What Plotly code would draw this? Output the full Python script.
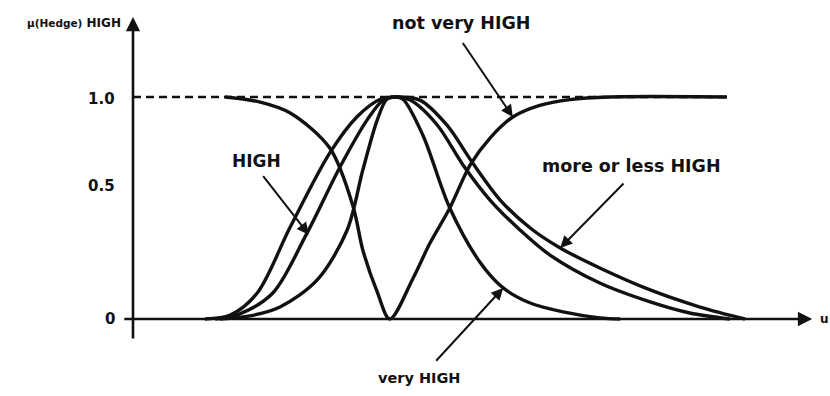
import plotly.graph_objects as go

# Membership curves for the linguistic hedges applied to the fuzzy set HIGH
# (u = universe of discourse, mu = degree of membership)
more_or_less_u = [1.20, 1.62, 2.07, 2.62, 3.28, 3.73, 4.12, 4.37, 4.78, 5.23, 5.65, 6.12, 6.62, 7.12, 7.78, 8.62, 9.45, 10.20]
more_or_less_mu = [0.0, 0.018, 0.117, 0.414, 0.748, 0.910, 0.99, 1.0, 0.986, 0.874, 0.707, 0.536, 0.410, 0.320, 0.230, 0.131, 0.054, 0.0]

high_u = [1.37, 1.78, 2.33, 2.90, 3.45, 3.90, 4.17, 4.37, 4.62, 5.07, 5.50, 5.95, 6.45, 6.95, 7.78, 8.62, 9.28, 9.95]
high_mu = [0.0, 0.023, 0.117, 0.387, 0.685, 0.896, 0.986, 1.0, 0.986, 0.874, 0.694, 0.536, 0.401, 0.288, 0.162, 0.077, 0.027, 0.0]

very_high_u = [1.45, 1.95, 2.45, 3.07, 3.57, 3.83, 4.07, 4.23, 4.37, 4.50, 4.83, 5.28, 5.78, 6.17, 6.62, 7.17, 7.78, 8.12]
very_high_mu = [0.0, 0.014, 0.054, 0.176, 0.401, 0.671, 0.896, 0.99, 1.0, 0.99, 0.829, 0.5, 0.257, 0.140, 0.072, 0.032, 0.005, 0.0]

not_very_u = [1.53, 2.12, 2.62, 3.28, 3.67, 3.83, 4.07, 4.28, 4.67, 4.95, 5.28, 5.62, 5.95, 6.33, 6.78, 7.28, 7.95, 9.90]
not_very_mu = [1.0, 0.977, 0.928, 0.770, 0.505, 0.311, 0.122, 0.0, 0.185, 0.342, 0.5, 0.694, 0.815, 0.910, 0.962, 0.988, 1.0, 1.0]

# Reference level mu = 1.0 (dashed)
full_u = [0.0, 9.90]
full_mu = [1.0, 1.0]

# Y-axis tick labels
tick_vals = [0.0, 0.5, 1.0]
tick_text = ["0", "0.5", "1.0"]

FONT = "DejaVu Sans"
INK = "#111111"

fig = go.Figure()

fig.add_trace(go.Scatter(x=full_u, y=full_mu, mode="lines",
                         line=dict(color=INK, width=2.6, dash="8px,5px"),
                         hoverinfo="skip", showlegend=False))

for xs, ys in [(more_or_less_u, more_or_less_mu), (high_u, high_mu),
               (very_high_u, very_high_mu), (not_very_u, not_very_mu)]:
    fig.add_trace(go.Scatter(x=xs, y=ys, mode="lines",
                             line=dict(color=INK, width=3.4, shape="spline", smoothing=0.9),
                             hoverinfo="skip", showlegend=False))

annotations = []

# Axes drawn as arrows
annotations.append(dict(x=11.32, y=0.0, ax=-0.17, ay=0.0, xref="x", yref="y",
                        axref="x", ayref="y", text="", showarrow=True,
                        arrowhead=2, arrowsize=1.1, arrowwidth=2.6, arrowcolor=INK))
annotations.append(dict(x=0.0, y=1.36, ax=0.0, ay=-0.095, xref="x", yref="y",
                        axref="x", ayref="y", text="", showarrow=True,
                        arrowhead=2, arrowsize=1.1, arrowwidth=2.6, arrowcolor=INK))

# Tick labels on the membership axis
tick_pos = {0.0: 0.0, 0.5: 0.60, 1.0: 0.99}
for v, t in zip(tick_vals, tick_text):
    annotations.append(dict(x=-0.27, y=tick_pos[v], xref="x", yref="y", text=f"<b>{t}</b>",
                            showarrow=False, xanchor="right", yanchor="middle",
                            font=dict(family=FONT, size=15, color=INK)))

annotations.append(dict(x=-0.17, y=1.335, xref="x", yref="y",
                        text="<b><span style='font-size:10.5px'>\u03bc(Hedge)</span> HIGH</b>",
                        showarrow=False, xanchor="right", yanchor="middle",
                        font=dict(family=FONT, size=12, color=INK)))
annotations.append(dict(x=11.53, y=0.0, xref="x", yref="y", text="<b>u</b>",
                        showarrow=False, xanchor="center", yanchor="middle", borderpad=0,
                        font=dict(family=FONT, size=12, color=INK)))

# Curve labels and their pointer arrows
labels = [
    ("HIGH", 2.05, 0.712, 17, (2.93, 0.38), (2.15, 0.65)),
    ("not very HIGH", 5.47, 1.333, 17.5, (6.33, 0.91), (5.48, 1.25)),
    ("more or less HIGH", 8.30, 0.689, 17.5, (7.12, 0.32), (8.20, 0.617)),
    ("very HIGH", 4.77, -0.266, 14.5, (6.17, 0.14), (5.03, -0.195)),
]
for text, lx, ly, size, tip, tail in labels:
    annotations.append(dict(x=lx, y=ly, xref="x", yref="y", text=f"<b>{text}</b>",
                            showarrow=False, xanchor="center", yanchor="middle",
                            font=dict(family=FONT, size=size, color=INK)))
    annotations.append(dict(x=tip[0], y=tip[1], ax=tail[0], ay=tail[1], xref="x", yref="y",
                            axref="x", ayref="y", text="", showarrow=True,
                            arrowhead=2, arrowsize=1.2, arrowwidth=2.0, arrowcolor=INK))

fig.update_layout(
    width=830, height=396,
    margin=dict(l=0, r=0, t=0, b=0),
    paper_bgcolor="white", plot_bgcolor="white",
    xaxis=dict(range=[-2.2167, 11.6167], visible=False, fixedrange=True),
    yaxis=dict(range=[-0.3468, 1.4369], visible=False, fixedrange=True),
    annotations=annotations,
    showlegend=False,
)

fig.write_html("out.html")
